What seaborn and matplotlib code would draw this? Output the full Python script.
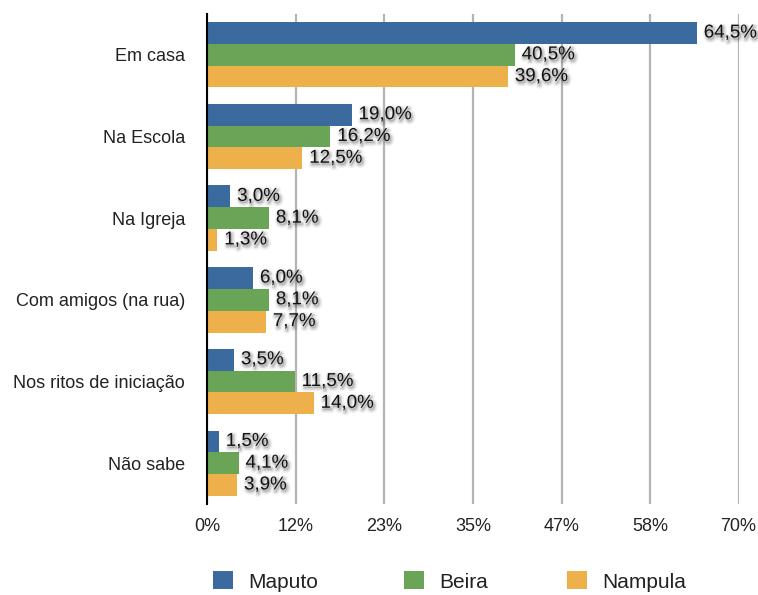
import numpy as np
import pandas as pd
import matplotlib
matplotlib.use("Agg")
import matplotlib.pyplot as plt
import matplotlib.patheffects as pe
from matplotlib.patches import Patch
import seaborn as sns

categories = ["Em casa", "Na Escola", "Na Igreja", "Com amigos (na rua)",
              "Nos ritos de iniciação", "Não sabe"]
cities = ["Maputo", "Beira", "Nampula"]
maputo = [64.5, 19.0, 3.0, 6.0, 3.5, 1.5]
beira = [40.5, 16.2, 8.1, 8.1, 11.5, 4.1]
nampula = [39.6, 12.5, 1.3, 7.7, 14.0, 3.9]
tick_values = [0, 70 / 6, 70 / 3, 35, 140 / 3, 350 / 6, 70]
tick_labels = ["0%", "12%", "23%", "35%", "47%", "58%", "70%"]
colors = ["#3A6A9E", "#6AA457", "#EEB04B"]

df = pd.DataFrame({
    "local": categories * 3,
    "cidade": [c for c in cities for _ in categories],
    "valor": maputo + beira + nampula,
})

sns.set_style("white")
plt.rcParams["font.family"] = ["Liberation Sans", "DejaVu Sans"]

fig = plt.figure(figsize=(7.58, 5.95), dpi=100)
ax = fig.add_axes([0.2737, 0.1529, 0.7006, 0.8236])

sns.barplot(data=df, y="local", x="valor", hue="cidade", order=categories,
            hue_order=cities, palette=colors, orient="h", width=0.8,
            saturation=1, legend=False, linewidth=0, ax=ax)

ax.set_xlim(0, 70)
ax.set_ylim(len(categories) - 0.5, -0.5)
ax.set_xticks(tick_values)
ax.set_xticklabels(tick_labels)
ax.xaxis.grid(True, color="#B4B4B4", linewidth=1.6)
ax.yaxis.grid(False)
ax.set_axisbelow(True)
ax.set_xlabel("")
ax.set_ylabel("")
for s in ["top", "right", "bottom"]:
    ax.spines[s].set_visible(False)
ax.spines["left"].set_color("black")
ax.spines["left"].set_linewidth(1.5)
ax.tick_params(axis="x", length=0, pad=10, labelsize=13, labelcolor="#222222")
ax.tick_params(axis="y", length=0, pad=16, labelsize=13, labelcolor="#222222")

# soft drop shadow behind the value labels
shadow = [
    pe.Stroke(offset=(1.0, -1.5), linewidth=4.5, foreground="black", alpha=0.06),
    pe.Stroke(offset=(1.0, -1.5), linewidth=2.2, foreground="black", alpha=0.11),
    pe.Normal(),
]

for cont, vals in zip(ax.containers, [maputo, beira, nampula]):
    labels = [f"{v:.1f}%".replace(".", ",") for v in vals]
    texts = ax.bar_label(cont, labels=labels, padding=5, fontsize=13.5,
                         color="#111111")
    for t in texts:
        t.set_path_effects(shadow)

# legend entries laid out along the bottom
legend_x = [213, 404, 567]
for name, col, x in zip(cities, colors, legend_x):
    fig.legend(handles=[Patch(facecolor=col, edgecolor="none")], labels=[name],
               loc="center left", bbox_to_anchor=(x / 758, 1 - 581.5 / 595),
               frameon=False, fontsize=15, handlelength=0.95, handleheight=0.95,
               handletextpad=0.75, borderpad=0, borderaxespad=0,
               labelcolor="#222222")

fig.savefig("out.png", dpi=100)
